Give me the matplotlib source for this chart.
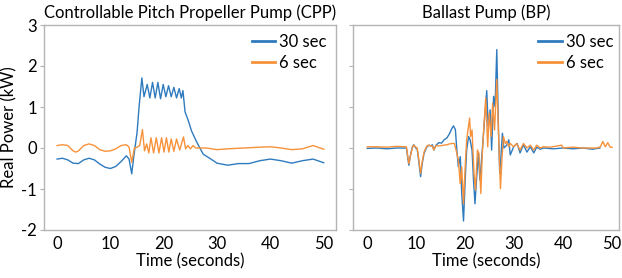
import matplotlib
matplotlib.use("Agg")
from matplotlib import pyplot as plt

# Controllable Pitch Propeller Pump (CPP)
cpp_t_30 = [0, 1, 2, 3, 4, 5, 6, 7, 8, 9, 10, 11, 12, 13, 13.5, 14, 14.4, 15.0, 15.4, 15.9,
            16.3, 16.9, 17.4, 17.9, 18.4, 18.9, 19.4, 19.9, 20.4, 20.9, 21.4, 21.9, 22.4, 22.9, 23.3,
            23.6, 24.0, 24.6, 25.2, 26.2, 27.4, 28.6, 30, 32, 34, 36, 38, 40, 42, 44, 46, 48, 50]
cpp_p_30 = [-0.27, -0.25, -0.29, -0.37, -0.38, -0.29, -0.25, -0.29, -0.39, -0.47, -0.50, -0.45,
            -0.33, -0.19, -0.27, -0.63, -0.19, 0.38, 1.04, 1.71, 1.25, 1.55, 1.22, 1.6, 1.22, 1.6,
            1.2, 1.55, 1.25, 1.52, 1.25, 1.48, 1.22, 1.45, 1.22, 1.4, 0.88, 0.67, 0.42, 0.14, -0.15,
            -0.25, -0.37, -0.42, -0.38, -0.38, -0.31, -0.27, -0.31, -0.37, -0.31, -0.27, -0.36]
cpp_t_6 = [0, 1, 2, 3, 3.5, 4, 5, 6, 7, 8, 9, 10, 11, 12, 13, 13.5, 14, 14.5, 15, 15.5,
           16.0, 16.4, 16.8, 17.2, 17.6, 18.1, 18.6, 19.1, 19.6, 20.05, 20.5, 20.95, 21.4, 21.9, 22.4,
           23.0, 23.7, 24.1, 24.5, 25, 25.5, 26, 27, 28, 30, 32, 35, 38, 40, 42, 44, 46, 48, 50]
cpp_p_6 = [0.06, 0.08, 0.06, -0.07, -0.1, -0.07, 0.06, 0.1, 0.06, -0.04, -0.08, -0.07, -0.02,
           0.06, 0.08, 0.02, -0.35, 0.0, 0.02, 0.06, 0.45, -0.07, 0.1, -0.12, 0.25, -0.12, 0.25,
           -0.12, 0.25, -0.1, 0.25, -0.1, 0.22, -0.08, 0.22, -0.05, 0.27, -0.02, 0.06, -0.02, 0.06,
           0.0, 0.0, 0.0, -0.04, -0.02, 0.0, 0.02, 0.03, 0.0, -0.04, -0.02, 0.06, -0.03]

# Ballast Pump (BP)
bp_t_30 = [0, 2, 4, 6, 8, 8.5, 8.8, 9.2, 9.5, 9.9, 10.2, 10.5, 10.9, 11.2, 11.6, 11.9, 12.2, 12.6,
           13.0, 13.3, 13.6, 14.0, 14.6, 15.2, 15.7, 16.3, 16.8, 17.3, 17.6, 18.0, 18.3, 18.6, 19.0,
           19.3, 19.66, 20.0, 20.3, 20.7, 21.0, 21.4, 21.7, 22.0, 22.4, 22.7, 23.0, 23.4, 23.7, 24.0,
           24.4, 24.7, 25.1, 25.4, 25.8, 26.1, 26.45, 26.8, 27.05, 27.3, 27.6, 27.9, 28.5, 28.9, 29.2,
           29.9, 30.6, 31.2, 31.9, 32.6, 33.3, 34.0, 34.6, 35.3, 36, 38, 40, 42, 44, 46, 47.5]
bp_p_30 = [-0.01, 0.0, -0.02, 0.0, 0.0, -0.42, -0.2, 0.02, 0.08, 0.0, -0.02, -0.3, -0.7, -0.4,
           -0.13, -0.05, 0.03, 0.07, 0.05, 0.08, -0.05, 0.06, 0.13, 0.12, 0.2, 0.25, 0.35, 0.48, 0.54,
           0.45, -0.05, -0.46, -0.21, -1.11, -1.78, -0.78, -0.05, 0.28, 0.2, -0.05, -0.78, -1.36,
           -0.62, -0.13, -0.78, -0.2, 0.28, 0.77, 1.4, 0.52, 0.93, -0.05, 1.26, 1.01, 2.4, 0.44,
           -0.62, -0.21, 0.36, 0.0, 0.07, 0.2, -0.17, 0.03, 0.11, -0.12, 0.08, -0.1, 0.03, -0.12,
           0.02, -0.03, 0.0, -0.02, 0.0, -0.02, 0.0, -0.03, 0.0]
bp_t_6 = [0, 2, 4, 6, 8, 8.5, 8.8, 9.2, 9.5, 9.9, 10.2, 10.5, 10.9, 11.2, 11.6, 11.9, 12.2, 12.6,
          13.0, 13.3, 13.6, 14.0, 14.6, 15.2, 15.7, 16.3, 16.8, 17.3, 17.8, 18.3, 18.6, 18.98, 19.3,
          19.66, 20.0, 20.3, 20.9, 21.1, 21.4, 21.8, 22.1, 22.5, 22.8, 23.2, 23.5, 23.9, 24.2, 24.6,
          24.9, 25.3, 25.6, 26.0, 26.45, 26.8, 27.2, 27.5, 27.8, 28.2, 28.5, 28.9, 29.2, 29.9, 30.5,
          31.2, 31.9, 32.6, 33.3, 34.0, 34.6, 35.3, 36, 37.4, 39.7, 40, 42, 44, 46.9, 47.6, 48.1,
          48.6, 49.1, 49.6, 50]
bp_p_6 = [0.03, 0.03, 0.02, 0.04, 0.03, -0.38, -0.2, 0.0, 0.07, 0.02, 0.0, -0.25, -0.62, -0.35,
          -0.1, -0.02, 0.05, 0.07, 0.05, 0.05, -0.05, 0.06, 0.05, 0.06, 0.07, 0.08, 0.1, 0.11, 0.11,
          -0.13, -0.29, -0.87, -0.46, -1.36, -0.46, 0.2, 0.73, 0.28, 0.44, -0.62, -1.03, -0.05,
          -0.13, -1.11, -0.13, 0.69, 1.22, 0.03, 0.85, 0.28, 1.09, 0.44, 1.67, 0.36, -0.99, -0.29,
          0.28, 0.11, 0.16, 0.03, 0.11, 0.03, 0.11, -0.05, 0.11, 0.0, 0.07, -0.05, 0.07, 0.0, 0.03,
          0.02, 0.07, 0.0, 0.02, 0.0, 0.0, 0.03, 0.16, 0.03, 0.13, 0.02, 0.02]

titles = ["Controllable Pitch Propeller Pump (CPP)", "Ballast Pump (BP)"]
labels = ["30 sec", "6 sec"]
yticks = [-2, -1, 0, 1, 2, 3]
xticks = [0, 10, 20, 30, 40, 50]

blue = "#2f7bbf"
orange = "#f7923a"
frame = "#b4b4b4"

plt.rcParams["font.family"] = ["Lato", "DejaVu Sans"]

fig = plt.figure(figsize=(6.22, 2.78), dpi=100)
ax1 = fig.add_axes([44 / 622, 48 / 278, 292 / 622, 205 / 278])
ax2 = fig.add_axes([353 / 622, 48 / 278, 266 / 622, 205 / 278], sharey=ax1)

panels = [(ax1, cpp_t_30, cpp_p_30, cpp_t_6, cpp_p_6, (-2.45, 52.3), (1.02, 1.03)),
          (ax2, bp_t_30, bp_p_30, bp_t_6, bp_p_6, (-2.9, 51.4), (1.035, 1.03))]

for i, (ax, t30, p30, t6, p6, xlim, anchor) in enumerate(panels):
    ax.plot(t30, p30, color=blue, lw=1.0, label=labels[0])
    ax.plot(t6, p6, color=orange, lw=1.0, label=labels[1])
    ax.set_xlim(*xlim)
    ax.set_ylim(-2, 3)
    ax.set_xticks(xticks)
    ax.set_yticks(yticks)
    ax.set_title(titles[i], fontsize=12, pad=5)
    ax.set_xlabel("Time (seconds)", fontsize=12, labelpad=1)
    for s in ax.spines.values():
        s.set_color(frame)
        s.set_linewidth(1.0)
    ax.tick_params(axis="x", length=0, labelsize=12, pad=4)
    ax.tick_params(axis="y", length=3, color=frame, labelsize=12, pad=2)
    leg = ax.legend(loc="upper right", bbox_to_anchor=anchor, frameon=False, fontsize=12,
                    handlelength=1.4, handletextpad=0.25, labelspacing=0.3)
    for h in leg.legend_handles:
        h.set_linewidth(2.0)

ax1.set_ylabel("Real Power (kW)", fontsize=12, labelpad=3)
ax1.set_yticklabels([str(v) for v in yticks])
plt.setp(ax2.get_yticklabels(), visible=False)

fig.savefig("out.png", dpi=100)
